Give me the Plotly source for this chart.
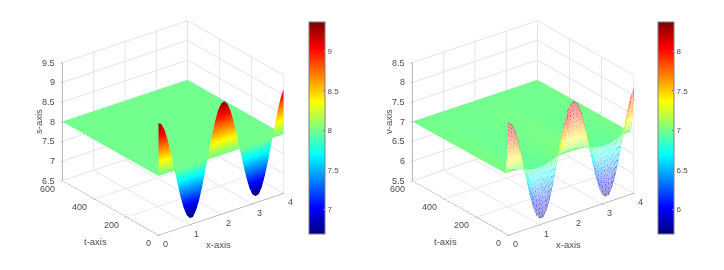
import numpy as np
import plotly.graph_objects as go

x_vals = [round(i * 0.1, 1) for i in range(41)]
s_initial = [9.35, 9.29, 9.11, 8.83, 8.48, 8.08, 7.68, 7.30, 6.99, 6.77, 6.67,
             6.67, 6.81, 7.05, 7.37, 7.76, 8.16, 8.55, 8.89, 9.16, 9.31,
             9.35, 9.26, 9.06, 8.76, 8.40, 8.00, 7.60, 7.24, 6.94, 6.74,
             6.67, 6.69, 6.84, 7.11, 7.45, 7.84, 8.24, 8.63, 8.95, 9.15]
v_initial = [8.35, 8.29, 8.11, 7.83, 7.48, 7.08, 6.68, 6.30, 5.99, 5.77, 5.67,
             5.67, 5.81, 6.05, 6.37, 6.76, 7.16, 7.55, 7.89, 8.16, 8.31,
             8.35, 8.26, 8.06, 7.76, 7.40, 7.00, 6.60, 6.24, 5.94, 5.74,
             5.67, 5.69, 5.84, 6.11, 6.45, 6.84, 7.24, 7.63, 7.95, 8.15]
s_rest = 8.0
v_rest = 7.0
t_s = [0, 1, 600]
amp_s = [1.0, 0.0, 0.0]
t_v = [0, 1, 2, 3, 4, 5, 6, 7, 8, 9, 10, 11, 12, 13, 14, 15, 16, 18, 20, 600]
amp_v = [1.0, .92, .84, .76, .68, .60, .53, .46, .40, .34, .28, .23, .19, .15, .12, .09, .07, .04, .02, 0.0]
n_wall = 17
wall_back = 2
x_ticks = [0, 1, 2, 3, 4]
t_ticks = [0, 200, 400, 600]
s_ticks = [6.5, 7, 7.5, 8, 8.5, 9, 9.5]
v_ticks = [5.5, 6, 6.5, 7, 7.5, 8, 8.5]
s_bar = [7, 7.5, 8, 8.5, 9]
v_bar = [6, 6.5, 7, 7.5, 8]
s_range = [6.69, 9.37]
v_range = [5.69, 8.37]

JET = [[0, "#00007f"], [0.125, "#0000ff"], [0.375, "#00ffff"], [0.5, "#80ff80"],
       [0.625, "#ffff00"], [0.875, "#ff0000"], [1, "#7f0000"]]
PALE = [[0, "#9f9fd0"], [0.125, "#b0b0ff"], [0.375, "#b0ffff"], [0.5, "#c8ffc8"],
        [0.625, "#ffffb0"], [0.875, "#ffb0b0"], [1, "#d09f9f"]]
TXT = "#4d4d4d"
FONT = "Liberation Sans"
d = 1.62
c, s_e = 0.9, 0.435
box = 1.233


def grid(init, rest, amp):
    return np.array([[rest + a * (z - rest) for z in init] for a in amp])


def axis(vals, rng):
    return dict(range=rng, tickvals=vals, title=dict(text=""), showticklabels=False,
                showbackground=False, gridcolor="#e3e3e3", showline=True, linecolor="#808080",
                zeroline=False, showspikes=False, ticks="inside", ticklen=2, tickcolor="#808080")


def note(xv, tv, zv, text, dx, dy, size=9, anchor="center", angle=0):
    return dict(x=xv, y=tv, z=zv, text=text, showarrow=False, xshift=dx, yshift=-dy, textangle=angle,
                xanchor=anchor, yanchor="middle", font=dict(family=FONT, size=size, color=TXT))


def scene(dom_x, z_ticks, z_rng, z_title):
    notes = [note(0, 600, v, f"{v:g}", -5, 0, anchor="right") for v in z_ticks]
    notes += [note(0, v, z_rng[0], f"{v:g}", -5, 8, anchor="right") for v in t_ticks]
    notes += [note(v, 0, z_rng[0], f"{v:g}", 7, 9) for v in x_ticks]
    notes += [note(2, 0, z_rng[0], "x-axis", -2.5, 30, 9.5), note(0, 300, z_rng[0], "t-axis", -14.5, 33, 9.5),
              note(0, 600, sum(z_rng) / 2, z_title, -24, 0, 9.5, angle=-90)]
    return dict(domain=dict(x=dom_x, y=[14 / 270, 1]),
                xaxis=axis(x_ticks, [0, 4]), yaxis=axis(t_ticks, [0, 600]), zaxis=axis(z_ticks, z_rng),
                annotations=notes, aspectmode="manual", aspectratio=dict(x=box, y=box, z=0.832 * box),
                camera=dict(projection=dict(type="orthographic"), center=dict(x=0, y=0, z=0),
                            up=dict(x=0, y=0, z=1),
                            eye=dict(x=-0.609 * c * d, y=-0.793 * c * d, z=s_e * d)))


def cbar(px, ticks):
    return dict(x=px / 724, xanchor="left", xpad=0, y=36 / 270, yanchor="bottom", ypad=0, len=212 / 270,
                lenmode="fraction", thickness=16, tickvals=ticks, ticktext=[f"{v:g}" for v in ticks],
                ticks="inside", ticklen=2, tickcolor="#808080", outlinecolor="#808080", outlinewidth=1,
                tickfont=dict(family=FONT, size=8, color=TXT))


FLAT = dict(ambient=1, diffuse=0, specular=0, roughness=1, fresnel=0)
fig = go.Figure()
Zs = grid(s_initial, s_rest, amp_s)
fig.add_trace(go.Surface(x=x_vals, y=t_s, z=Zs, colorscale=JET, cmin=s_range[0], cmax=s_range[1],
                         lighting=FLAT, colorbar=cbar(308.5, s_bar), scene="scene", hoverinfo="skip"))

Zv = grid(v_initial, v_rest, amp_v)
fig.add_trace(go.Surface(x=x_vals, y=[q + wall_back for q in t_v[:n_wall]], z=Zv[:n_wall],
                         colorscale=PALE, cmin=v_range[0], cmax=v_range[1],
                         showscale=False, lighting=FLAT, scene="scene2", hoverinfo="skip"))
fig.add_trace(go.Surface(x=x_vals, y=t_v[n_wall - 1:], z=Zv[n_wall - 1:], colorscale=JET,
                         cmin=v_range[0], cmax=v_range[1], lighting=FLAT,
                         colorbar=cbar(658, v_bar), scene="scene2", hoverinfo="skip"))
lx, ly, lz = [], [], []
for j in range(n_wall):
    lx += x_vals + [None]
    ly += [t_v[j]] * len(x_vals) + [None]
    lz += list(Zv[j]) + [None]
for i, xv in enumerate(x_vals):
    lx += [xv] * n_wall + [None]
    ly += t_v[:n_wall] + [None]
    lz += list(Zv[:n_wall, i]) + [None]
fig.add_trace(go.Scatter3d(x=lx, y=ly, z=lz, mode="lines", opacity=0.7, scene="scene2", hoverinfo="skip",
                           line=dict(width=1, color=[7 if q is None else q for q in lz], colorscale=JET,
                                     cmin=v_range[0], cmax=v_range[1]), showlegend=False))

fig.update_layout(width=724, height=270, margin=dict(l=0, r=0, t=0, b=0, autoexpand=False), paper_bgcolor="white",
                  showlegend=False,
                  scene=scene([0, 346 / 724], s_ticks, [6.5, 9.5], "s-axis"),
                  scene2=scene([350 / 724, 696 / 724], v_ticks, [5.5, 8.5], "v-axis"))
fig.write_html("out.html", config=dict(displayModeBar=False),
               post_script="document.body.style.margin='0';document.body.style.overflow='hidden';")
